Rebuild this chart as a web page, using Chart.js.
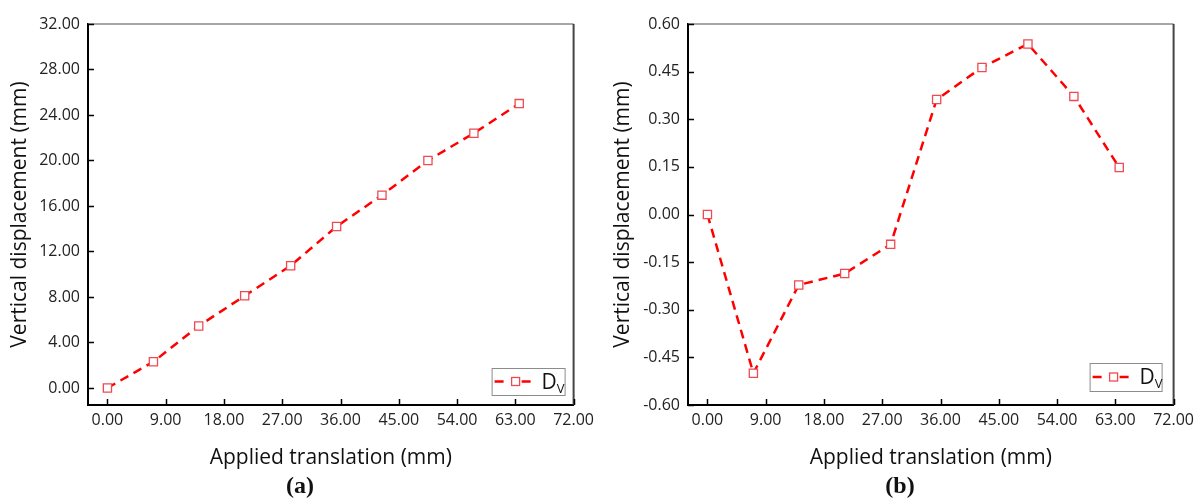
<!DOCTYPE html>
<html>
<head>
<meta charset="utf-8">
<script src="https://cdn.jsdelivr.net/npm/chart.js@4.4.1/dist/chart.umd.min.js"></script>
<style>
  body { margin: 0; background: #fff; width: 1204px; height: 502px; position: relative; overflow: hidden; }
  .panel { position: absolute; top: 0; width: 600px; height: 480px; }
  .caption { position: absolute; top: 472px; width: 60px; text-align: center; font-family: "Liberation Serif", serif; font-weight: bold; font-size: 24px; color: #111; }
</style>
</head>
<body>
<div class="panel" style="left:0"><canvas id="chartA" width="600" height="480"></canvas></div>
<div class="panel" style="left:600px"><canvas id="chartB" width="600" height="480"></canvas></div>
<div class="caption" style="left:270px">(a)</div>
<div class="caption" style="left:870px">(b)</div>
<script>
// values
const translation = [0, 7.1, 14.1, 21.2, 28.3, 35.4, 42.4, 49.5, 56.6, 63.6];
const dvA = [0, 2.3, 5.45, 8.1, 10.75, 14.2, 16.95, 20.0, 22.4, 25.0];
const dvB = [0, -0.50, -0.222, -0.186, -0.094, 0.362, 0.463, 0.537, 0.372, 0.148];

const xTicks = [0, 9, 18, 27, 36, 45, 54, 63, 72];
const yTicksA = [0, 4, 8, 12, 16, 20, 24, 28, 32];
const yTicksB = [-0.6, -0.45, -0.3, -0.15, 0, 0.15, 0.3, 0.45, 0.6];

const FONT = "'Open Sans', 'Noto Sans', sans-serif";
const RED = "#ff0000";
const MARK = "#ee4a52";

// box round the plot and inward tick marks
const framePlugin = {
    id: "frame",
    afterDraw(chart) {
        const { ctx, chartArea: a, scales: { x, y } } = chart;
        ctx.save();
        ctx.lineWidth = 1.5;
        ctx.strokeStyle = "#8a8a8a";
        ctx.beginPath();
        ctx.moveTo(a.left, a.top);
        ctx.lineTo(a.right, a.top);
        ctx.stroke();
        ctx.strokeStyle = "#444";
        ctx.lineWidth = 2;
        ctx.beginPath();
        ctx.moveTo(a.right, a.top);
        ctx.lineTo(a.right, a.bottom);
        ctx.stroke();

        ctx.strokeStyle = "#000";
        ctx.lineWidth = 1.5;
        ctx.beginPath();
        x.ticks.forEach(t => {
            const px = Math.round(x.getPixelForValue(t.value)) + 0.5;
            ctx.moveTo(px, a.bottom);
            ctx.lineTo(px, a.bottom - 6);
        });
        y.ticks.forEach(t => {
            const py = Math.round(y.getPixelForValue(t.value)) + 0.5;
            ctx.moveTo(a.left, py);
            ctx.lineTo(a.left + 6, py);
        });
        ctx.stroke();
        ctx.restore();
    }
};

// legend box with subscript label
const dvLegend = {
    id: "dvLegend",
    afterDraw(chart, args, opts) {
        const { ctx, chartArea: a } = chart;
        const w = opts.width, h = opts.height;
        const left = a.right - opts.right - w;
        const top = a.bottom - opts.bottom - h;
        const cy = top + h / 2;
        ctx.save();
        ctx.fillStyle = "#fff";
        ctx.fillRect(left, top, w, h);
        ctx.strokeStyle = "#8c8c8c";
        ctx.lineWidth = 1;
        ctx.strokeRect(left + 0.5, top + 0.5, w, h);

        ctx.strokeStyle = RED;
        ctx.lineWidth = 2.5;
        ctx.beginPath();
        ctx.moveTo(left + 3, cy);
        ctx.lineTo(left + 12, cy);
        ctx.moveTo(left + 30, cy);
        ctx.lineTo(left + 39, cy);
        ctx.stroke();

        ctx.strokeStyle = MARK;
        ctx.lineWidth = 1.3;
        ctx.fillStyle = "#fff";
        ctx.fillRect(left + 20, cy - 4, 8, 8);
        ctx.strokeRect(left + 20, cy - 4, 8, 8);

        ctx.fillStyle = "#111";
        ctx.textBaseline = "alphabetic";
        ctx.font = "21px " + FONT;
        ctx.fillText("D", left + 50, cy + 7);
        const dw = ctx.measureText("D").width;
        ctx.font = "13px " + FONT;
        ctx.fillText("V", left + 50 + dw, cy + 11);
        ctx.restore();
    }
};

function makeChart(id, values, yMin, yMax, yTicks, titlePad, legendPos) {
    const ctx = document.getElementById(id).getContext("2d");
    return new Chart(ctx, {
        type: "line",
        data: {
            datasets: [{
                label: "DV",
                data: translation.map((t, i) => ({ x: t, y: values[i] })),
                borderColor: RED,
                borderWidth: 2.5,
                borderDash: [9, 6],
                tension: 0,
                fill: false,
                pointStyle: "rect",
                pointRadius: 5.8,
                pointBorderWidth: 1.3,
                pointBorderColor: MARK,
                pointBackgroundColor: "#fff"
            }]
        },
        options: {
            responsive: false,
            animation: false,
            devicePixelRatio: 1,
            layout: { padding: { top: 24, right: 24, left: 0, bottom: 0 } },
            plugins: {
                legend: { display: false },
                tooltip: { enabled: false },
                dvLegend: legendPos
            },
            scales: {
                x: {
                    type: "linear",
                    min: -3,
                    max: 72,
                    afterBuildTicks: s => { s.ticks = xTicks.map(v => ({ value: v })); },
                    afterFit: s => { s.height = 75; },
                    grid: { display: false, drawTicks: false },
                    border: { display: true, color: "#000", width: 2 },
                    ticks: {
                        padding: 6,
                        autoSkip: false,
                        maxRotation: 0,
                        color: "#222",
                        font: { family: FONT, size: 16 },
                        callback: v => Number(v).toFixed(2)
                    },
                    title: {
                        display: true,
                        text: "Applied translation (mm)",
                        color: "#111",
                        font: { family: FONT, size: 21 },
                        padding: { top: 0, bottom: 9 }
                    }
                },
                y: {
                    type: "linear",
                    min: yMin,
                    max: yMax,
                    afterBuildTicks: s => { s.ticks = yTicks.map(v => ({ value: v })); },
                    afterFit: s => { s.width = 88; },
                    grid: { display: false, drawTicks: false },
                    border: { display: true, color: "#000", width: 2 },
                    ticks: {
                        padding: 8,
                        autoSkip: false,
                        color: "#222",
                        font: { family: FONT, size: 16 },
                        callback: v => Number(v).toFixed(2)
                    },
                    title: {
                        display: true,
                        text: "Vertical displacement (mm)",
                        color: "#111",
                        font: { family: FONT, size: 21 },
                        padding: { top: titlePad, bottom: 0 }
                    }
                }
            }
        },
        plugins: [framePlugin, dvLegend]
    });
}

makeChart("chartA", dvA, -1.5, 32, yTicksA, 7, { width: 73, height: 27, right: 9, bottom: 10 });
makeChart("chartB", dvB, -0.6, 0.6, yTicksB, 10, { width: 72, height: 28, right: 12, bottom: 14 });
</script>
</body>
</html>
